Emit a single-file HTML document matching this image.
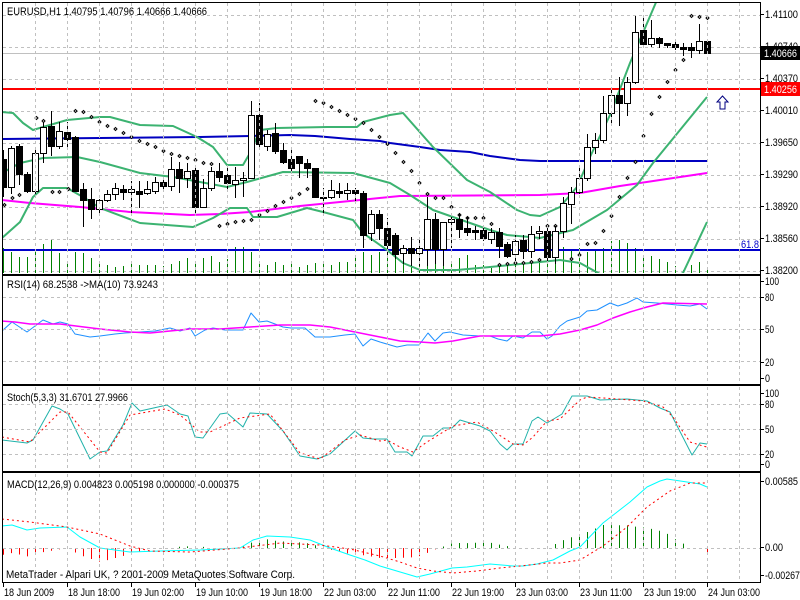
<!DOCTYPE html>
<html><head><meta charset="utf-8"><style>
html,body{margin:0;padding:0;background:#fff;}
svg{display:block;font-family:"Liberation Sans",sans-serif;font-size:11px;}
</style></head><body>
<svg id="c" width="800" height="600" xmlns="http://www.w3.org/2000/svg">
<defs>
<clipPath id="cm"><rect x="3" y="3" width="757" height="270"/></clipPath>
<clipPath id="cr"><rect x="3" y="276" width="757" height="107"/></clipPath>
<clipPath id="cs"><rect x="3" y="387" width="757" height="83"/></clipPath>
<clipPath id="cd"><rect x="3" y="474" width="757" height="107"/></clipPath>
</defs>
</svg>
<script>
const S=document.getElementById('c');const NS='http://www.w3.org/2000/svg';
function el(t,a,p,txt){const e=document.createElementNS(NS,t);for(const k in a)e.setAttribute(k,a[k]);if(txt!==undefined)e.textContent=txt;(p||S).appendChild(e);return e;}
function tx(x,y,t,w,fill,p){return el('text',{x:x,y:y,fill:fill||'#000',textLength:w,lengthAdjust:'spacingAndGlyphs'},p||S,t);}
function g(clip){return el('g',clip?{'clip-path':'url(#'+clip+')'}:{});}
function pl(pts,col,w,p,dash){const a={points:pts.map(q=>q.join(',')).join(' '),fill:'none',stroke:col,'stroke-width':w,'stroke-linejoin':'round'};if(dash)a['stroke-dasharray']=dash;el('polyline',a,p);}
function interp(pts,x){if(x<=pts[0][0])return pts[0][1];for(let i=1;i<pts.length;i++){if(x<=pts[i][0]){const a=pts[i-1],b=pts[i];return a[1]+(b[1]-a[1])*(x-a[0])/(b[0]-a[0]);}}return pts[pts.length-1][1];}
const GD='3,3',GC='#c0c0c0';
const gm=g('cm'),gr=g('cr'),gs=g('cs'),gd=g('cd');
for(let x=35;x<760;x+=32){[[3,273],[276,383],[387,470],[474,581]].forEach(r=>el('line',{x1:x+.5,y1:r[0],x2:x+.5,y2:r[1],stroke:GC,'stroke-dasharray':GD}));}
for(let y=15;y<273;y+=32)el('line',{x1:3,y1:y+.5,x2:760,y2:y+.5,stroke:GC,'stroke-dasharray':GD},gm);
[297,329,361].forEach(y=>el('line',{x1:3,y1:y+.5,x2:760,y2:y+.5,stroke:GC,'stroke-dasharray':GD}));
[404,429,454].forEach(y=>el('line',{x1:3,y1:y+.5,x2:760,y2:y+.5,stroke:GC,'stroke-dasharray':GD}));
el('line',{x1:3,y1:548.5,x2:760,y2:548.5,stroke:GC,'stroke-dasharray':GD});
const vol=[248,252,257,257,252,244,240,253,261,252,253,258,263,265,267,266,264,265,265,265,266,264,261,258,261,258,256,262,259,247,247,252,262,265,262,265,263,267,265,263,262,265,262,262,258,252,255,252,258,253,
260,260,262,252,250,252,262,258,255,265,265,268,265,265,262,265,262,262,247,247,
247,249,248,252,250,248,241,240,243,248,255,256,259,262,266,270,265,262,270];
vol.forEach((t,i)=>{const x=3+8*i+.5;el('line',{x1:x,y1:t,x2:x,y2:273,stroke:'#008000'},gm);});
el('line',{x1:3,y1:53.5,x2:760,y2:53.5,stroke:'#c0c0c0'},gm);
el('line',{x1:3,y1:89,x2:760,y2:89,stroke:'#ff0000','stroke-width':2},gm);
el('line',{x1:3,y1:250,x2:760,y2:250,stroke:'#0000cc','stroke-width':2},gm);
tx(741,248,'61.8',18,'#0000cc',gm);
pl([[2,139],[100,138],[200,137],[250,136],[290,135],[315,136],[350,139],[380,141],[390,143],[420,147],[440,150],[470,152],[490,156],[520,160],[540,161],[707,161]],'#0000c0',2,gm);
pl([[2,200],[30,203],[80,207],[130,212],[190,215],[220,214],[250,212],[300,206],[330,203],[360,200],[400,196],[540,195],[580,193],[620,186],[660,180],[707,173]],'#ff00ff',2,gm);
const BG='#3cb371';
pl([[2,112],[13,113],[23,123],[33,130],[43,127],[67,120],[100,117],[110,117],[140,125],[173,126],[197,137],[213,147],[227,165],[243,165],[250,153],[260,130],[277,128],[327,127],[357,127],[363,122],[390,115],[403,113],[433,147],[467,180],[490,192],[517,210],[530,215],[540,216],[560,207],[577,187],[590,157],[610,115],[630,63],[657,0]],BG,2,gm);
pl([[2,173],[20,163],[43,158],[77,157],[100,162],[140,173],[173,177],[200,182],[227,187],[247,182],[283,172],[353,173],[390,183],[410,195],[433,210],[490,230],[507,235],[530,237],[540,238],[573,230],[607,210],[637,185],[653,163],[707,97]],BG,2,gm);
pl([[2,238],[20,222],[33,197],[43,188],[67,188],[83,197],[100,208],[140,223],[193,227],[213,218],[230,208],[247,208],[253,217],[277,217],[307,208],[323,212],[353,220],[363,233],[387,250],[403,263],[420,270],[457,270],[490,267],[530,263],[560,260],[580,263],[600,274],[650,290],[683,273],[707,222]],BG,2,gm);
const sar=[[4,205],[12,198],[19,195],[36,118],[43,121],[52,192],[59,192],[68,189],[75,111],[83,112],[91,117],[99,122],[107,126],[115,129],[123,133],[131,137],[139,141],[147,144],[155,147],[163,151],[171,154],[179,156],[187,158],[195,160],[203,163],[211,164],[219,226],[227,224],[235,222],[243,221],[251,220],[259,215],[267,211],[275,206],[283,202],[291,198],[299,194],[307,189],[315,101],[323,103],[331,107],[339,111],[347,115],[355,119],[363,123],[371,130],[379,137],[387,144],[395,153],[403,162],[411,171],[419,183],[427,194],[435,198],[443,198],[451,207],[459,215],[467,218],[475,218],[483,218],[491,224],[499,265],[507,264],[515,263],[523,263],[531,262],[539,260],[547,226],[555,226],[571,259],[579,255],[587,244],[595,243],[603,231],[611,216],[619,197],[627,178],[635,162],[643,136],[651,114],[659,97],[667,82],[675,70],[683,60],[691,16],[699,17],[707,18]];
sar.forEach(p=>el('polygon',{points:`${p[0]+.5},${p[1]-1.5} ${p[0]+2},${p[1]} ${p[0]+.5},${p[1]+1.5} ${p[0]-1},${p[1]}`,fill:'#fff',stroke:'#000','stroke-width':1},gm));
const C=[[159,187,150,196,'b'],[148,187,146,193,'w'],[146,174,144,184,'b'],[174,191,172,192,'b'],[153,191,147,193,'w'],[127,153,122,162,'w'],[126,146,111,155,'b'],[131,146,122,148,'w'],[132,139,122,148,'b'],[137,191,136,191,'b'],
[189,200,183,226,'b'],[199,209,188,218,'b'],[200,209,199,214,'w'],[194,200,190,201,'w'],[188,194,183,199,'w'],[189,192,185,199,'b'],[189,192,181,215,'w'],[191,194,181,207,'b'],[189,193,181,194,'w'],[182,191,177,193,'w'],
[182,186,177,190,'b'],[169,186,157,190,'w'],[169,178,162,192,'b'],[171,178,163,187,'w'],[170,207,166,215,'b'],[188,207,179,207,'w'],[171,188,167,190,'w'],[171,177,163,181,'b'],[175,183,167,189,'b'],[180,184,167,197,'w'],
[178,180,172,196,'w'],[115,178,101,178,'w'],[115,144,103,148,'b'],[134,146,130,150,'w'],[133,151,123,153,'b'],[150,162,143,163,'b'],[159,168,150,172,'b'],[156,163,156,177,'b'],[163,168,159,177,'b'],[168,197,168,197,'b'],
[197,198,188,213,'b'],[190,197,180,198,'w'],[191,193,183,197,'b'],[190,193,183,199,'w'],[190,193,188,203,'b'],[193,235,191,247,'b'],[214,233,210,240,'w'],[214,228,210,239,'b'],[228,245,218,257,'b'],[235,254,233,258,'b'],
[248,253,245,263,'w'],[248,253,237,265,'b'],[248,253,237,265,'w'],[219,249,197,265,'w'],[219,249,213,263,'b'],[222,249,222,265,'w'],[219,222,217,247,'w'],[219,229,213,237,'b'],[228,232,217,235,'b'],[230,232,226,239,'b'],
[230,238,228,240,'b'],[232,239,228,243,'w'],[232,246,228,257,'b'],[244,256,242,257,'b'],[241,254,235,260,'w'],[240,251,235,258,'b'],[234,251,226,257,'w'],[231,233,226,238,'w'],[231,257,226,263,'b'],[231,257,226,263,'w'],
[203,231,197,237,'w'],[192,204,187,223,'w'],[178,192,166,193,'w'],[147,178,134,180,'w'],[140,147,133,153,'w'],[113,140,96,142,'w'],[95,113,88,125,'w'],[95,103,77,125,'b'],[82,103,77,115,'w'],[32,82,16,83,'w'],
[30,44,16,44,'b'],[38,44,20,46,'w'],[38,43,37,47,'b'],[43,45,43,47,'b'],[44,47,42,49,'b'],[47,49,43,55,'b'],[47,50,43,57,'b'],[41,50,24,53,'w'],[41,53,41,53,'b']];
C.forEach((c,i)=>{const x=3+8*i;el('line',{x1:x+.5,y1:c[2],x2:x+.5,y2:c[3]+1,stroke:'#000'},gm);
let h=Math.max(c[1]-c[0],1);
el('rect',{x:x-2.5,y:c[0]+.5,width:6,height:h,fill:c[4]=='b'?'#000':'#fff',stroke:'#000','stroke-width':1},gm);});
el('polygon',{points:'722.5,96 728,102 725,102 725,109 720,109 720,102 717,102',fill:'#fff',stroke:'#000080','stroke-width':1});
pl([[2,331],[12,322],[27,332],[43,320],[53,324],[60,322],[68,324],[75,334],[90,337],[100,336],[115,334],[125,333],[140,332],[155,331],[170,328],[180,331],[190,328],[195,336],[205,330],[213,328],[225,330],[243,330],[251,313],[259,322],[267,321],[275,324],[283,327],[291,328],[305,328],[315,337],[330,337],[345,335],[355,334],[363,346],[371,339],[380,342],[397,347],[407,345],[419,345],[428,333],[435,341],[443,333],[450,332],[463,335],[480,336],[490,336],[498,339],[507,341],[513,336],[523,338],[532,332],[540,332],[547,339],[552,336],[560,326],[567,321],[580,317],[587,311],[597,310],[610,303],[618,306],[627,303],[637,298],[643,302],[657,303],[677,305],[690,306],[700,304],[707,309]],'#1e90ff',1,gr);
pl([[2,321],[15,322],[30,324],[60,324],[100,329],[130,332],[150,333],[190,329],[220,329],[250,327],[280,325],[310,325],[330,327],[360,333],[380,337],[400,341],[420,342],[435,343],[453,341],[480,336],[513,336],[540,336],[560,334],[580,330],[597,325],[613,318],[630,312],[647,307],[663,303],[707,304]],'#ff00ff',1.5,gr);
pl([[2,440],[27,443],[33,440],[52,406],[60,409],[68,414],[90,459],[100,452],[107,451],[123,425],[132,403],[140,411],[167,405],[180,414],[188,416],[195,437],[203,438],[220,414],[227,413],[243,427],[250,413],[267,414],[283,431],[300,456],[317,459],[330,454],[355,431],[363,438],[373,439],[387,439],[395,452],[407,452],[412,456],[423,436],[433,436],[443,428],[452,428],[460,420],[480,426],[490,431],[500,444],[507,450],[513,444],[523,444],[532,421],[538,417],[547,423],[562,414],[572,396],[587,396],[600,400],[627,399],[647,401],[660,408],[670,412],[692,455],[700,443],[707,444]],'#20b2aa',1,gs);
pl([[2,437],[30,442],[60,412],[68,412],[100,452],[107,453],[130,415],[165,409],[180,415],[200,432],[210,432],[240,418],[270,414],[300,453],[320,459],[345,440],[360,435],[380,441],[387,440],[400,447],[413,452],[427,442],[440,434],[453,426],[477,422],[493,431],[513,444],[523,445],[533,437],[547,421],[560,419],[580,400],[587,397],[603,398],[643,401],[663,407],[673,417],[690,442],[703,446],[707,447]],'#ff0000',1,gs,'2,3');
const mm=[[2,526],[12,525],[27,530],[40,528],[67,527],[80,537],[100,548],[130,552],[160,551],[200,550],[240,548],[253,540],[267,536],[290,537],[310,540],[330,548],[350,555],[365,560],[380,566],[417,577],[430,574],[452,568],[467,567],[490,564],[513,566],[523,566],[537,564],[553,560],[570,551],[580,547],[603,523],[630,502],[647,487],[660,481],[667,479],[687,482],[700,484],[707,487]];
const ms=[[2,519],[30,522],[67,527],[100,534],[130,546],[150,551],[190,552],[240,548],[280,543],[320,545],[350,549],[380,556],[400,562],[417,568],[433,571],[453,573],[477,571],[500,568],[520,566],[547,563],[560,563],[580,560],[603,546],[627,527],[647,507],[670,491],[690,483],[707,483]];
for(let i=0;i<89;i++){const x=3+8*i;let h=interp(ms,x)-interp(mm,x);if(i==88)h=-5;
if(Math.abs(h)<1)continue;el('line',{x1:x+.5,y1:548,x2:x+.5,y2:548-h,stroke:h>0?'#008000':'#ff0000','stroke-width':1},gd);}
pl(mm,'#00ffff',1,gd);
pl(ms,'#ff0000',1,gd,'2,3');
const B='#000';
el('rect',{x:2.5,y:2.5,width:758,height:580,fill:'none',stroke:B});
[274,275,384,385,471,472,582].forEach(y=>el('line',{x1:2,y1:y+.5,x2:761,y2:y+.5,stroke:B}));
function rl(y,t,w){el('line',{x1:760,y1:y+.5,x2:764,y2:y+.5,stroke:B});tx(765,y+4,t,w);}
[[14,'1.41100'],[46,'1.40740'],[78,'1.40370'],[110,'1.40010'],[142,'1.39650'],[174,'1.39290'],[206,'1.38920'],[238,'1.38560'],[270,'1.38200']].forEach(a=>rl(a[0],a[1],33));
el('rect',{x:761,y:46,width:39,height:14,fill:'#000'});tx(764,57,'1.40666',33,'#fff');
el('rect',{x:761,y:82,width:39,height:14,fill:'#ff0000'});tx(764,93,'1.40256',33,'#fff');
[[281,'100',14],[297,'80',9],[329,'50',9],[362,'20',9],[378,'0',5]].forEach(a=>rl(a[0],a[1],a[2]));
[[393,'100',14],[404,'80',9],[429,'50',9],[454,'20',9],[464,'0',5]].forEach(a=>rl(a[0],a[1],a[2]));
[[481,'0.00585',33],[547,'0.00',18],[575,'-0.00267',35]].forEach(a=>rl(a[0],a[1],a[2]));
[[3,'18 Jun 2009',50],[67,'18 Jun 18:00',52],[131,'19 Jun 02:00',52],[195,'19 Jun 10:00',52],[259,'19 Jun 18:00',52],[323,'22 Jun 03:00',52],[387,'22 Jun 11:00',52],[451,'22 Jun 19:00',52],[515,'23 Jun 03:00',52],[579,'23 Jun 11:00',52],[643,'23 Jun 19:00',52],[707,'24 Jun 03:00',52]].forEach(a=>{el('line',{x1:a[0]+.5,y1:582,x2:a[0]+.5,y2:587,stroke:B});tx(a[0]+1,596,a[1],a[2]);});
tx(7,15,'EURUSD,H1  1.40795 1.40796 1.40666 1.40666',200);
tx(7,288,'RSI(14) 68.2538  ->MA(10) 73.9243',151);
tx(7,401,'Stoch(5,3,3) 31.6701 27.9966',121);
tx(7,488,'MACD(12,26,9) 0.004823 0.005198 0.000000 -0.000375',232);
tx(6,578,'MetaTrader - Alpari UK, ? 2001-2009 MetaQuotes Software Corp.',289);
</script>
</body></html>
